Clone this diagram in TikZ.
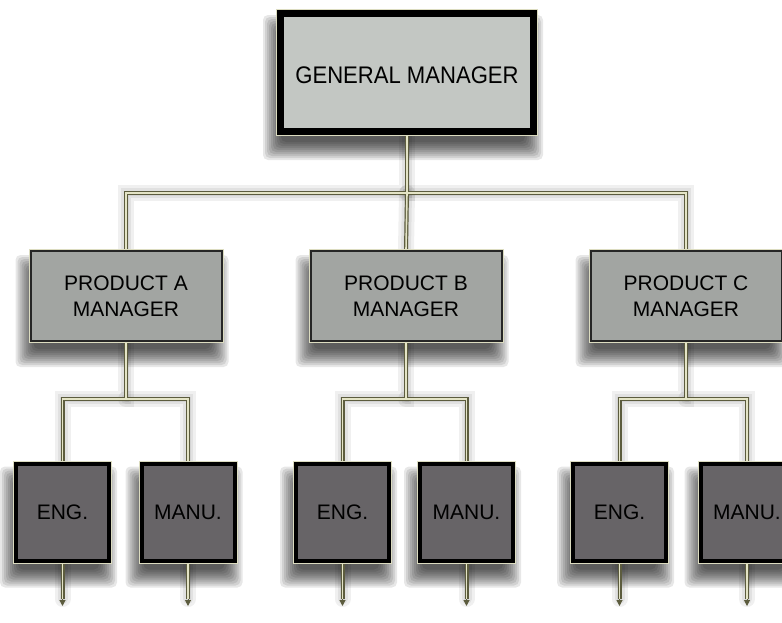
\documentclass[tikz,border=0pt]{standalone}
\usepackage{fontspec}
\setmainfont{Liberation Sans}
\usetikzlibrary{arrows.meta,calc}
\definecolor{pipedark}{HTML}{5C5C3E}
\definecolor{pipelight}{HTML}{E4E4C6}
\definecolor{gmfill}{HTML}{C3C7C3}
\definecolor{pmfill}{HTML}{A2A5A2}
\definecolor{depfill}{HTML}{676467}
\definecolor{edgecream}{HTML}{DCDCC0}
\pgfdeclarelayer{bglayer}
\pgfdeclarelayer{shadowlayer}
\pgfdeclarelayer{pipelayer}
\pgfsetlayers{bglayer,shadowlayer,pipelayer,main}
\newcommand\orgpipes[1]{%
  \draw[#1] (gm.south) -- (gm.south |- topbar) -| (pa.north);
  \draw[#1] (gm.south |- topbar) -| (pc.north);
  \draw[#1] (gm.south |- topbar) -- (pb.north);
  \foreach \p/\e/\m in {pa/ea/ma, pb/eb/mb, pc/ec/mc}{
    \draw[#1] (\p.south) -- (\p.south |- subbar) -| (\e.north);
    \draw[#1] (\p.south |- subbar) -| (\m.north);
  }
  \foreach \d in {ea,ma,eb,mb,ec,mc}{
    \draw[#1,shorten >=7pt] (\d.south) -- (\d.south |- arrowend);
  }
}
\begin{document}
\begin{tikzpicture}[x=1pt,y=1pt,
  shadowfill/.style={fill=black,opacity=0.095,rounded corners=5pt},
  gmbox/.style={draw=black,line width=7pt,fill=gmfill,minimum width=253pt,minimum height=118pt,inner sep=0pt,
    preaction={draw=edgecream,line width=9pt}},
  pmbox/.style={draw=black!85,line width=2pt,fill=pmfill,minimum width=191pt,minimum height=90pt,inner sep=0pt,
    preaction={draw=edgecream,line width=4pt},align=center,font=\fontsize{21}{26}\selectfont,text=black},
  depbox/.style={draw=black,line width=4pt,fill=depfill,minimum width=93pt,minimum height=97pt,inner sep=0pt,
    preaction={draw=edgecream,line width=6pt},font=\fontsize{21}{26}\selectfont,text=black},
  pipedarkline/.style={draw=pipedark,line width=4pt},
  pipelightline/.style={draw=pipelight,line width=1.6pt},
  pipeshadow/.style={draw=black,line width=#1,opacity=0.06,line cap=round},
  tip/.style={draw=pipedark,line width=1pt,-{Triangle[length=6pt,width=6pt]}}
]
\useasboundingbox (0,0) rectangle (782,-622);
\begin{pgfonlayer}{bglayer}
  \fill[white] (0,0) rectangle (782,-622);
\end{pgfonlayer}

\coordinate (topbar) at (0,-193);
\coordinate (subbar) at (0,-399);
\coordinate (arrowend) at (0,-606);

\node[gmbox] (gm) at (407,-72.5) {};
\node[font=\fontsize{24}{28}\selectfont,text=black] (gmt) at ([yshift=-3pt]gm.center) {\scalebox{0.92}[1]{GENERAL MANAGER}};
\node[pmbox] (pa) at (126,-296) {PRODUCT A\\MANAGER};
\node[pmbox] (pb) at (406,-296) {PRODUCT B\\MANAGER};
\node[pmbox] (pc) at (686,-296) {PRODUCT C\\MANAGER};

\node[depbox] (ea) at (62.5,-512) {\raisebox{-3pt}{ENG.}};
\node[depbox] (ma) at (188,-512) {\raisebox{-3pt}{MANU.}};
\node[depbox] (eb) at (342.5,-512) {\raisebox{-3pt}{ENG.}};
\node[depbox] (mb) at (466.5,-512) {\raisebox{-3pt}{MANU.}};
\node[depbox] (ec) at (619.5,-512) {\raisebox{-3pt}{ENG.}};
\node[depbox] (mc) at (747,-512) {\raisebox{-3pt}{MANU.}};

\begin{pgfonlayer}{shadowlayer}
  \foreach \n in {gm,pa,pb,pc,ea,ma,eb,mb,ec,mc}{
    \foreach \r in {10,8,...,-8}{
      \fill[shadowfill] ($(\n.south west)+(-4-\r,-15-\r)$) rectangle ($(\n.north east)+(-4+\r,-15+\r)$);
    }
  }
  \begin{scope}[xshift=-4pt,yshift=-10pt]
    \orgpipes{pipeshadow=16pt}
    \orgpipes{pipeshadow=10pt}
    \orgpipes{pipeshadow=5pt}
  \end{scope}
\end{pgfonlayer}

\begin{pgfonlayer}{pipelayer}
  \foreach \d in {ea,ma,eb,mb,ec,mc}{
    \draw[tip] (\d.south) -- (\d.south |- arrowend);
  }
  \orgpipes{pipedarkline}
  \orgpipes{pipelightline}
\end{pgfonlayer}
\end{tikzpicture}
\end{document}
